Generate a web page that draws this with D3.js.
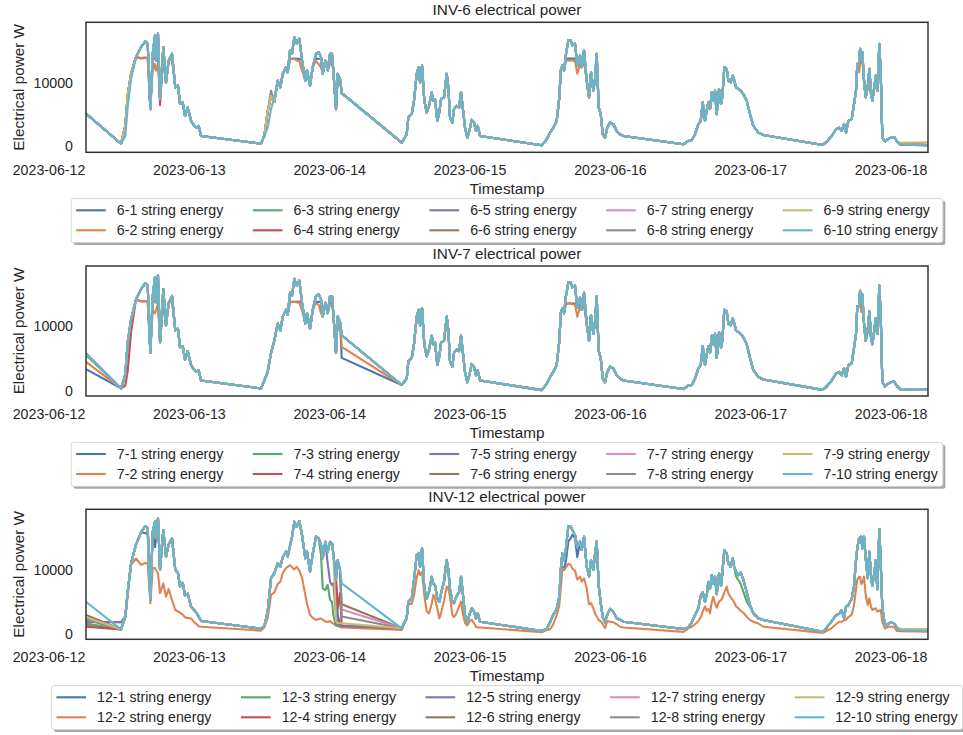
<!DOCTYPE html>
<html>
<head>
<meta charset="utf-8">
<script src="https://cdn.jsdelivr.net/npm/d3@7"></script>
<style>
body { margin: 0; background: #fff; }
text { font-family: "Liberation Sans", Arial, sans-serif; fill: #262626; }
</style>
</head>
<body>
<div id="chart"></div>
<script>
// sample times, hours after 2023-06-12 00:00 (the long steps are the night gaps)
var hours = [
  6.41, 12.40, 13.13, 13.54, 14.11, 14.96, 15.82, 16.55, 16.96, 17.41, 17.82, 18.21, 18.38, 18.72, 19.07, 19.63, 20.09, 20.55, 21.12, 21.68, 22.14, 22.49, 22.95, 23.34, 23.80, 24.37, 24.93, 25.34, 25.68, 26.08, 36.34,
  36.90, 37.48, 38.05, 38.61, 39.19, 39.64, 40.05, 40.61, 40.90, 41.30, 41.64, 42.03, 42.44, 42.89, 43.35, 43.91, 44.20, 44.72, 45.18, 45.74, 46.20, 46.60, 46.89, 47.33, 47.74, 48.14, 48.48, 48.70, 49.16, 49.45, 49.85, 50.14, 60.40,
  61.25, 61.53, 62.11, 62.50, 62.96, 63.30, 63.53, 63.87, 64.26, 64.67, 65.07, 65.53, 65.80, 66.09, 66.48, 66.83, 67.12, 67.63, 68.09, 68.37, 68.66, 69.05, 69.34, 69.80, 70.20, 70.54, 70.83, 71.22, 71.61, 71.96, 72.37, 72.76, 73.10, 73.39, 73.79, 84.34,
  85.19, 85.76, 86.32, 86.90, 87.35, 87.59, 87.86, 88.15, 88.49, 88.89, 89.30, 89.57, 90.03, 90.42, 90.89, 91.18, 91.57, 92.03, 92.43, 92.77, 93.16, 93.45, 93.74, 94.08, 94.43, 94.77, 95.16, 95.55, 96.02, 96.58, 97.16, 97.73, 98.29, 108.55,
  109.41, 109.99, 110.55, 111.12, 111.53, 111.87, 112.26, 112.55, 112.83, 113.12, 113.41, 113.68, 113.97, 114.26, 114.66, 115.00, 115.22, 115.56, 115.97, 116.25, 116.66, 117.00, 117.27, 117.56, 117.96, 118.37, 118.81, 119.39, 119.96, 120.52, 121.38, 122.23, 132.39,
  133.07, 133.93, 134.66, 135.23, 135.64, 136.03, 136.37, 136.77, 137.35, 137.74, 138.08, 138.30, 138.60, 138.77, 138.99, 139.16, 139.45, 139.74, 140.08, 140.36, 140.65, 140.87, 141.21, 141.45, 141.72, 142.07, 142.31, 142.58, 143.04, 143.50, 144.02, 144.58, 145.04, 145.61, 150.39
];

// INV-6, common string profile (W)
var inv6Base = [
  5170, 370, 1600, 6130, 10670, 14130, 15730, 16640, 16270, 5870, 14670, 17600, 13600, 17870, 7500, 15730, 10130, 13600, 14670, 9330, 9600, 6670, 6930, 4800, 6130, 4000, 3200, 2930, 3200, 1600, 370,
  1600, 2930, 5870, 7730, 10400, 9330, 11470, 12530, 11730, 15200, 14670, 17330, 16270, 17070, 13600, 10400, 12000, 9600, 12530, 14670, 14930, 14130, 11470, 13600, 12000, 14670, 14670, 12000, 5870, 11470, 10670, 8400, 530,
  1870, 4530, 5070, 7200, 11470, 12530, 10130, 12800, 7200, 5330, 6400, 8530, 7200, 7470, 4000, 5330, 7470, 7730, 11470, 9330, 4530, 3730, 5870, 6400, 6130, 8530, 6130, 2930, 1330, 2400, 4160, 3730, 2400, 3200, 1600, 110,
  1070, 2130, 2930, 4000, 7730, 12000, 12800, 12000, 14670, 16800, 16800, 16000, 16270, 12800, 14400, 12530, 15200, 10400, 7730, 11730, 8800, 10670, 14670, 6130, 5070, 1870, 1330, 2930, 3730, 3470, 2400, 1870, 1600, 270,
  800, 900, 1870, 3470, 4000, 6930, 4000, 5600, 6930, 5870, 8530, 7200, 8800, 5070, 9070, 6670, 7730, 12530, 12270, 10400, 10130, 11200, 10400, 9330, 9070, 8800, 8270, 7200, 5070, 3200, 2130, 1760, 150,
  690, 1600, 2670, 2930, 2400, 3470, 2130, 4000, 4270, 6670, 8800, 13070, 13070, 15470, 14130, 14930, 10400, 7730, 9330, 12270, 8270, 7200, 9330, 11200, 8800, 16270, 11470, 1330, 690, 1070, 1330, 1440, 800, 270, 160
];

// INV-7, common string profile (W)
var inv7Base = [
  5780, 370, 2500, 7500, 11000, 14130, 15730, 16640, 16270, 5870, 14670, 17600, 13600, 17870, 7500, 15730, 10130, 13600, 14670, 9330, 9600, 6670, 6930, 4800, 6130, 4000, 3200, 2930, 3200, 1600, 370,
  1600, 2930, 5870, 7730, 10400, 9330, 11470, 12530, 11730, 15200, 14670, 17330, 16270, 17070, 13600, 10400, 12000, 9600, 12530, 14670, 14930, 14130, 11470, 13600, 12000, 14670, 14670, 12000, 5870, 11470, 10670, 8600, 900,
  1870, 4530, 5070, 7200, 11470, 12530, 10130, 12800, 7200, 5330, 6400, 8530, 7200, 7470, 4000, 5330, 7470, 7730, 11470, 9330, 4530, 3730, 5870, 6400, 6130, 8530, 6130, 2930, 1330, 2400, 4160, 3730, 2400, 3200, 1600, 110,
  1070, 2130, 2930, 4000, 7730, 12000, 12800, 12000, 14670, 16800, 16800, 16000, 16270, 12800, 14400, 12530, 15200, 10400, 7730, 11730, 8800, 10670, 14670, 6130, 5070, 1870, 1330, 2930, 3730, 3470, 2400, 1870, 1600, 270,
  800, 900, 1870, 3470, 4000, 6930, 4000, 5600, 6930, 5870, 8530, 7200, 8800, 5070, 9070, 6670, 7730, 12530, 12270, 10400, 10130, 11200, 10400, 9330, 9070, 8800, 8270, 7200, 5070, 3200, 2130, 1760, 150,
  690, 1600, 2670, 2930, 2400, 3470, 2130, 4000, 4270, 6670, 8800, 13070, 13070, 15470, 14130, 14930, 10400, 7730, 9330, 12270, 8270, 7200, 9330, 11200, 8800, 16270, 11470, 1330, 690, 1070, 1330, 1440, 800, 270, 160
];

// INV-12, common string profile (W)
var inv12Base = [
  5030, 700, 2680, 6500, 11000, 14000, 15900, 16890, 16600, 5300, 16000, 17570, 15000, 18100, 10000, 16270, 12080, 14000, 15000, 10000, 9500, 7400, 8000, 6000, 6300, 4250, 3700, 3200, 2680, 2000, 800,
  1200, 3500, 8700, 9500, 11050, 10510, 12000, 12870, 12080, 13800, 15220, 17570, 16780, 17680, 15480, 11830, 12870, 9730, 12500, 15220, 14960, 13910, 11830, 14430, 12870, 14430, 14170, 12610, 8430, 11560, 10000, 7910, 860,
  2500, 5030, 5560, 8500, 12350, 12610, 10500, 13400, 7130, 5560, 6600, 8950, 7800, 7650, 5500, 5030, 6300, 8200, 11560, 10000, 7000, 5030, 4800, 6000, 6500, 8950, 6500, 2950, 1800, 2950, 4000, 3500, 2400, 3200, 1900, 440,
  800, 1800, 3000, 3900, 5800, 10000, 12600, 11500, 13500, 16900, 16800, 16300, 15500, 13600, 14430, 13130, 15220, 10500, 9000, 11500, 10000, 12500, 14500, 7500, 4800, 2600, 1800, 3000, 3900, 3470, 2430, 2200, 1900, 750,
  1000, 1800, 2950, 4000, 6000, 6500, 5000, 6000, 8160, 7130, 9210, 7800, 8950, 6200, 9470, 7500, 9500, 13130, 12600, 11000, 10510, 11830, 10400, 9800, 9210, 9600, 8500, 6500, 4510, 3210, 2430, 2160, 330,
  1000, 2000, 2900, 3200, 3730, 2430, 4250, 4510, 5500, 7500, 11500, 13400, 14960, 15100, 15220, 13400, 15220, 11830, 8700, 12870, 9000, 7500, 9500, 11560, 7000, 16400, 11000, 4000, 1300, 1500, 1800, 1650, 1000, 550, 450
];

// 12-2 string runs well below the others
var inv12String2 = [
  1380, 700, 2500, 6000, 10800, 11800, 10800, 11100, 11000, 4780, 10300, 10300, 10000, 9500, 6350, 7900, 5810, 7000, 5300, 3730, 3500, 3300, 3000, 2570, 2500, 2400, 1800, 1500, 1200, 1100, 500,
  1000, 2500, 6080, 6500, 7800, 8160, 9500, 10300, 10500, 10780, 10400, 10100, 10510, 9900, 8800, 6100, 4700, 2950, 2500, 2200, 2300, 2400, 2200, 1950, 1850, 2000, 1700, 1580, 1350, 1250, 1050, 1000, 600,
  2500, 4600, 4700, 6000, 8800, 10000, 9200, 9700, 6000, 3500, 3200, 4700, 6080, 5500, 4000, 2430, 3200, 5200, 7400, 7000, 5800, 2950, 2600, 3300, 4300, 5030, 3300, 1700, 1300, 1900, 2200, 1650, 1100, 1000, 1000, 250,
  600, 700, 1500, 2900, 4500, 7000, 10300, 10000, 10400, 11000, 10800, 10200, 9900, 8500, 8950, 8160, 8700, 7130, 4600, 4800, 4000, 3200, 2700, 2160, 1950, 1500, 900, 2000, 1900, 1800, 1500, 1100, 1000, 300,
  860, 1100, 1500, 2000, 2600, 3500, 4300, 3600, 3900, 3200, 5000, 5800, 4800, 4100, 5030, 5300, 5560, 6500, 7380, 6350, 5700, 5300, 4900, 4300, 4000, 3600, 3300, 2680, 2160, 1900, 1600, 1110, 150,
  450, 900, 1500, 1900, 1900, 2100, 2200, 2600, 3000, 4500, 7000, 8500, 8950, 8950, 7800, 8000, 8950, 6080, 4510, 5560, 4250, 3730, 3900, 4000, 3470, 3600, 3730, 1900, 800, 1100, 1100, 1100, 450, 400, 350
];

// per string departures from the profile: [hour, W]
var inv6EarlyRise = [[13.13, 3200], [13.54, 8000], [14.11, 11500], [37.48, 5500], [38.05, 8000], [38.61, 7000]];
var inv6Overrides = {
  "1": [[15.82, 14000], [16.55, 14050], [16.96, 14000], [17.82, 13900], [18.21, 14000], [18.72, 14000], [19.63, 14000], [21.12, 14000],
        [41.30, 13870], [41.64, 13870], [42.03, 13900], [42.44, 13870], [42.89, 13870], [45.74, 13870], [46.20, 13870], [46.60, 13870], [48.14, 13870], [48.48, 13870],
        [88.49, 13900], [88.89, 13900], [89.30, 13900], [89.57, 13900], [90.03, 13900], [90.89, 13900], [91.57, 13900], [93.74, 13900],
        [138.77, 14000], [139.16, 14000], [142.07, 14000]],
  "2": [[15.82, 13900], [16.55, 14000], [16.96, 13900], [17.82, 12000], [18.21, 13070], [18.38, 12000], [18.72, 13000], [19.63, 13800], [21.12, 13800],
        [41.30, 13870], [41.64, 13870], [42.03, 13870], [42.44, 13600], [42.89, 13500], [43.35, 12000], [45.74, 13500], [46.20, 13000], [46.60, 12500], [48.14, 13000], [48.48, 13300],
        [88.49, 13600], [88.89, 13600], [89.30, 13600], [89.57, 13600], [90.03, 13500], [90.42, 11500], [90.89, 13000], [91.57, 13400], [93.74, 13400],
        [138.60, 11730], [138.77, 13000], [139.16, 13500], [142.07, 13800]],
  "4": [[19.07, 6500]],
  "7": [[150.39, 0]],
  "8": [[38.05, 8800]],
  "9": [[145.61, 500], [150.39, 600]]
};

var inv7Overrides = {
  "1": [[6.41, 3350], [15.82, 13860], [16.55, 13860], [16.96, 13860], [17.82, 13860], [18.21, 13860], [18.72, 13860], [19.63, 13860], [21.12, 13860],
        [41.30, 13760], [41.64, 13760], [42.03, 13760], [42.44, 13760], [42.89, 13760], [45.74, 13760], [46.20, 13760], [46.60, 13760], [48.14, 13760], [48.48, 13760], [50.14, 5100],
        [88.49, 13500], [88.89, 13500], [89.30, 13500], [89.57, 13500], [90.03, 13500], [90.89, 13500], [91.57, 13500], [93.74, 13500],
        [138.77, 14000], [139.16, 14000], [142.07, 14000]],
  "2": [[6.41, 4480], [15.82, 13800], [16.55, 13860], [16.96, 13800], [17.82, 12500], [18.21, 11960], [18.38, 12500], [18.72, 13500], [19.63, 13800], [21.12, 13800],
        [41.30, 13760], [41.64, 13760], [42.03, 13760], [42.44, 13700], [42.89, 13600], [43.35, 12500], [45.74, 13600], [46.20, 13300], [46.60, 12000], [48.14, 13400], [48.48, 13300], [50.14, 6800],
        [88.49, 13400], [88.89, 13500], [89.30, 13500], [89.57, 13400], [90.03, 13300], [90.42, 11440], [90.89, 13000], [91.57, 13300], [93.74, 13300],
        [138.77, 13500], [138.99, 12200], [139.16, 13500], [142.07, 13800]],
  "3": [[6.41, 5550]],
  "4": [[13.13, 800], [13.54, 3000], [14.11, 9000]]
};

var inv12Overrides = {
  "1": [[6.41, 1900], [12.40, 1800], [16.55, 15800], [16.96, 15500], [18.21, 13600], [49.45, 3000], [49.85, 1400], [50.14, 1270],
        [87.59, 9000], [87.86, 10500], [88.15, 10000], [88.49, 11500], [88.89, 14500], [89.30, 15000], [89.57, 15500], [90.03, 15000], [90.42, 12000]],
  "3": [[6.41, 1600], [46.60, 12350], [46.89, 7130], [47.33, 6860], [47.74, 7650], [48.14, 5300], [48.48, 5030], [48.70, 2950], [49.16, 1270], [49.45, 1270], [49.85, 1250], [50.14, 1250],
        [117.56, 9000], [117.96, 8430], [118.37, 7800], [118.81, 6600], [119.39, 5030], [119.96, 4250]],
  "4": [[6.41, 1100], [49.45, 4000], [49.85, 6350], [50.14, 1270]],
  "5": [[6.41, 1900], [12.40, 1800], [47.74, 11000], [48.14, 8160], [48.48, 7650], [48.70, 7900], [49.16, 3000], [49.45, 1500], [49.85, 1400], [50.14, 1300]],
  "6": [[6.41, 2950], [50.14, 4620]],
  "7": [[6.41, 2400], [50.14, 3800]],
  "8": [[6.41, 2200], [50.14, 2700]],
  "9": [[6.41, 2600], [49.16, 2000], [49.45, 1700], [49.85, 1650], [50.14, 1650], [145.61, 800], [150.39, 750]]
};

var stringNumbers = ["1", "2", "3", "4", "5", "6", "7", "8", "9", "10"];
var palette = ["#4c72b0", "#dd8452", "#55a868", "#c44e52", "#8172b3", "#937860", "#da8bc3", "#8c8c8c", "#ccb974", "#64b5cd"];

// INV-6 strings 1-9 come up a little before string 10
stringNumbers.slice(0, 9).forEach(function (k) {
    inv6Overrides[k] = inv6EarlyRise.concat(inv6Overrides[k] || []);
});

var panels = [
    { inv: "6", top: 22.3, yDomain: [-1000, 19670], base: inv6Base, full: {}, overrides: inv6Overrides },
    { inv: "7", top: 266, yDomain: [-800, 19300], base: inv7Base, full: {}, overrides: inv7Overrides },
    { inv: "12", top: 509.3, yDomain: [-860, 19510], base: inv12Base, full: { "2": inv12String2 }, overrides: inv12Overrides }
];

var width = 963, height = 735;
var left = 86, right = 928, plotH = 130, midX = (left + right) / 2;
var fonts = '"Liberation Sans", Arial, sans-serif';
var lineW = 2.1;

var t0 = Date.UTC(2023, 5, 12);
function toDate(h) { return new Date(t0 + h * 3600e3); }

function buildSeries(p, k) {
    var vals = (p.full[k] || p.base).slice();
    (p.overrides[k] || []).forEach(function (o) {
        var i = hours.findIndex(function (h) { return Math.abs(h - o[0]) < 0.005; });
        if (i >= 0) vals[i] = o[1];
    });
    return hours.map(function (h, i) { return { t: toDate(h), v: vals[i] }; });
}

var svg = d3.select("#chart").append("svg")
    .attr("width", width)
    .attr("height", height);

var x = d3.scaleUtc()
    .domain([toDate(hours[0]), toDate(hours[hours.length - 1])])
    .range([left, right]);

var dayTicks = d3.utcDay.range(toDate(0), toDate(24 * 6 + 1));

panels.forEach(function (p, pi) {
    var bottom = p.top + plotH;
    var y = d3.scaleLinear().domain(p.yDomain).range([bottom, p.top]);
    var g = svg.append("g");

    g.append("clipPath").attr("id", "clip" + pi)
        .append("rect").attr("x", left).attr("y", p.top).attr("width", right - left).attr("height", plotH);

    var line = d3.line()
        .x(function (d) { return x(d.t); })
        .y(function (d) { return y(d.v); });

    var lines = g.append("g").attr("clip-path", "url(#clip" + pi + ")");
    stringNumbers.forEach(function (k, i) {
        lines.append("path")
            .datum(buildSeries(p, k))
            .attr("d", line)
            .attr("fill", "none")
            .attr("stroke", palette[i])
            .attr("stroke-width", lineW)
            .attr("stroke-linejoin", "round");
    });

    g.append("rect")
        .attr("x", left).attr("y", p.top)
        .attr("width", right - left).attr("height", plotH)
        .attr("fill", "none").attr("stroke", "#333").attr("stroke-width", 1.5);

    var xAxis = g.append("g")
        .attr("transform", "translate(0," + bottom + ")")
        .call(d3.axisBottom(x).tickValues(dayTicks).tickFormat(d3.utcFormat("%Y-%m-%d")).tickSize(0).tickPadding(13));
    xAxis.select(".domain").remove();
    xAxis.attr("font-size", 14.2).attr("font-family", fonts).attr("color", "#262626");

    var yAxis = g.append("g")
        .attr("transform", "translate(" + left + ",0)")
        .call(d3.axisLeft(y).tickValues([0, 10000]).tickFormat(d3.format("d")).tickSize(0).tickPadding(13));
    yAxis.select(".domain").remove();
    yAxis.attr("font-size", 14.2).attr("font-family", fonts).attr("color", "#262626");

    g.append("text")
        .attr("x", midX).attr("y", p.top - 7)
        .attr("text-anchor", "middle").attr("font-size", 15.3)
        .text("INV-" + p.inv + " electrical power");

    g.append("text")
        .attr("x", midX).attr("y", bottom + 42)
        .attr("text-anchor", "middle").attr("font-size", 15.3)
        .text("Timestamp");

    g.append("text")
        .attr("transform", "translate(24," + (p.top + plotH / 2) + ") rotate(-90)")
        .attr("text-anchor", "middle").attr("font-size", 15.3)
        .text("Electrical power W");

    // legend, 5 columns filled top to bottom
    var handleLen = 29.7, textPad = 11, colSpace = 29.5, pad = 5;
    var boxTop = bottom + 46.3, boxH = 44;
    var leg = g.append("g");
    var shadow = leg.append("rect");
    var box = leg.append("rect");
    var labels = stringNumbers.map(function (k) {
        return leg.append("text").attr("font-size", 14.2).attr("dy", "0.35em")
            .text(p.inv + "-" + k + " string energy");
    });
    var colW = d3.range(5).map(function (c) {
        return Math.max(labels[2 * c].node().getComputedTextLength(), labels[2 * c + 1].node().getComputedTextLength());
    });
    var totalW = 2 * pad + d3.sum(colW) + 5 * (handleLen + textPad) + 4 * colSpace;
    var legLeft = midX - totalW / 2;

    shadow.attr("x", legLeft + 2.5).attr("y", boxTop + 2.5).attr("width", totalW).attr("height", boxH)
        .attr("rx", 2.5).attr("fill", "#4d4d4d").attr("opacity", 0.5);
    box.attr("x", legLeft).attr("y", boxTop).attr("width", totalW).attr("height", boxH)
        .attr("rx", 2.5).attr("fill", "#fff").attr("stroke", "#d6d6d6").attr("stroke-width", 1);

    var cx = legLeft + pad;
    colW.forEach(function (w, c) {
        [0, 1].forEach(function (r) {
            var idx = 2 * c + r;
            var ry = boxTop + 11.7 + r * 20;
            leg.append("line")
                .attr("x1", cx).attr("x2", cx + handleLen)
                .attr("y1", ry).attr("y2", ry)
                .attr("stroke", palette[idx]).attr("stroke-width", lineW);
            labels[idx].attr("x", cx + handleLen + textPad).attr("y", ry);
        });
        cx += handleLen + textPad + w + colSpace;
    });
});
</script>
</body>
</html>
